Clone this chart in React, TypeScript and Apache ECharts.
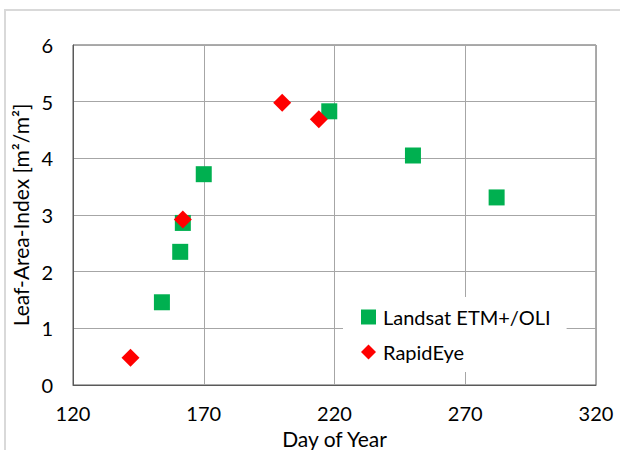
import React, { useEffect, useRef } from "react";
import * as echarts from "echarts";

// Day of year and leaf-area-index for each sensor
const landsatDay = [154, 161, 162, 170, 218, 250, 282];
const landsatLai = [1.46, 2.35, 2.86, 3.72, 4.83, 4.05, 3.31];
const rapidEyeDay = [142, 162, 200, 214];
const rapidEyeLai = [0.48, 2.92, 4.98, 4.69];

const seriesNames = ["Landsat ETM+/OLI", "RapidEye"];
const xTitle = "Day of Year";
const yTitle = "Leaf-Area-Index [m²/m²]";

const FONT = "Lato";

export default function App() {
  const ref = useRef<HTMLDivElement>(null);

  useEffect(() => {
    if (!ref.current) return;
    const chart = echarts.init(ref.current, null, { renderer: "svg" });
    const landsat = landsatDay.map((d, i) => [d, landsatLai[i]]);
    const rapid = rapidEyeDay.map((d, i) => [d, rapidEyeLai[i]]);

    chart.setOption({
      animation: false,
      backgroundColor: "#ffffff",
      textStyle: { fontFamily: FONT },
      grid: {
        left: 73,
        right: 24,
        top: 45,
        bottom: 65,
        show: true,
        borderColor: "#595959",
        borderWidth: 1,
        containLabel: false,
        outerBoundsMode: "none",
      },
      graphic: [
        {
          type: "rect",
          shape: { x: 5, y: 10, width: 640, height: 470 },
          style: { fill: "none", stroke: "#d9d9d9", lineWidth: 2 },
          silent: true,
        },
      ],
      xAxis: {
        type: "value",
        min: 120,
        max: 320,
        interval: 50,
        name: xTitle,
        nameLocation: "middle",
        nameGap: 39,
        nameTextStyle: { fontFamily: FONT, fontSize: 21, color: "#000" },
        axisLine: { show: true, lineStyle: { color: "#595959", width: 1 } },
        axisTick: { show: false },
        axisLabel: { fontFamily: FONT, fontSize: 20, color: "#000", margin: 18 },
        splitLine: { show: true, lineStyle: { color: "#a6a6a6", width: 1 } },
      },
      yAxis: {
        type: "value",
        min: 0,
        max: 6,
        interval: 1,
        name: yTitle,
        nameLocation: "middle",
        nameGap: 33,
        nameTextStyle: { fontFamily: FONT, fontSize: 21, color: "#000" },
        axisLine: { show: true, lineStyle: { color: "#595959", width: 1 } },
        axisTick: { show: false },
        axisLabel: { fontFamily: FONT, fontSize: 20, color: "#000", margin: 20 },
        splitLine: { show: true, lineStyle: { color: "#a6a6a6", width: 1 } },
      },
      legend: {
        orient: "vertical",
        left: 343,
        top: 297,
        backgroundColor: "#ffffff",
        padding: [10, 16, 10, 18],
        itemGap: 15,
        itemWidth: 15,
        itemHeight: 15,
        textStyle: { fontFamily: FONT, fontSize: 20, color: "#000", padding: [0, 0, 0, 2] },
        data: [
          { name: seriesNames[0], icon: "rect", itemStyle: { opacity: 1 } },
          { name: seriesNames[1], icon: "diamond", itemStyle: { opacity: 1 } },
        ],
      },
      series: [
        {
          name: seriesNames[0],
          type: "scatter",
          symbol: "rect",
          symbolSize: 16,
          itemStyle: { color: "#00b050", opacity: 1 },
          data: landsat,
        },
        {
          name: seriesNames[1],
          type: "scatter",
          symbol: "diamond",
          symbolSize: 18,
          itemStyle: { color: "#ff0000", opacity: 1 },
          data: rapid,
        },
      ],
    });

    return () => chart.dispose();
  }, []);

  return (
    <div
      ref={ref}
      style={{ position: "absolute", left: 0, top: 0, width: 620, height: 450 }}
    />
  );
}
